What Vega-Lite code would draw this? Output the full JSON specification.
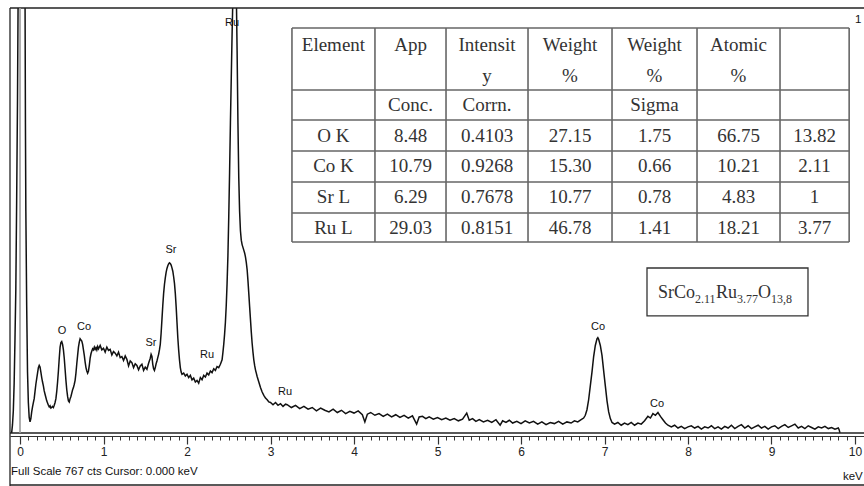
{
  "$schema": "https://vega.github.io/schema/vega-lite/v6.json",
  "autosize": {"type": "none"},
  "padding": {"left": 10, "top": 8, "right": 0, "bottom": 50},
  "width": 854,
  "height": 428,
  "background": "white",
  "config": {"view": {"stroke": null}},
  "resolve": {"axis": {"x": "independent"}},
  "datasets": {
    "spectrum": [
      {"e":-0.10,"c":0},{"e":-0.09,"c":15},{"e":-0.08,"c":40},{"e":-0.07,"c":90},{"e":-0.06,"c":170},{"e":-0.05,"c":260},{"e":-0.04,"c":420},{"e":-0.03,"c":600},{"e":-0.02,"c":850},{"e":-0.01,"c":1000},{"e":0.02,"c":1000},{"e":0.05,"c":950},{"e":0.06,"c":800},{"e":0.065,"c":560},{"e":0.07,"c":400},{"e":0.08,"c":230},{"e":0.09,"c":110},{"e":0.10,"c":55},{"e":0.11,"c":28},{"e":0.12,"c":20},{"e":0.13,"c":26},{"e":0.14,"c":38},{"e":0.15,"c":47},{"e":0.16,"c":55},{"e":0.17,"c":62},{"e":0.18,"c":75},{"e":0.19,"c":88},{"e":0.20,"c":98},{"e":0.21,"c":108},{"e":0.22,"c":118},{"e":0.23,"c":122},{"e":0.24,"c":119},{"e":0.25,"c":110},{"e":0.26,"c":100},{"e":0.27,"c":92},{"e":0.28,"c":85},{"e":0.29,"c":76},{"e":0.30,"c":70},{"e":0.31,"c":64},{"e":0.32,"c":58},{"e":0.33,"c":54},{"e":0.34,"c":50},{"e":0.35,"c":47},{"e":0.36,"c":49},{"e":0.37,"c":45},{"e":0.38,"c":46},{"e":0.39,"c":48},{"e":0.40,"c":46},{"e":0.41,"c":50},{"e":0.42,"c":55},{"e":0.43,"c":62},{"e":0.44,"c":75},{"e":0.45,"c":92},{"e":0.46,"c":112},{"e":0.47,"c":135},{"e":0.48,"c":155},{"e":0.49,"c":163},{"e":0.50,"c":165},{"e":0.51,"c":160},{"e":0.52,"c":150},{"e":0.53,"c":135},{"e":0.54,"c":115},{"e":0.55,"c":95},{"e":0.56,"c":78},{"e":0.57,"c":66},{"e":0.58,"c":58},{"e":0.59,"c":56},{"e":0.60,"c":62},{"e":0.61,"c":66},{"e":0.62,"c":72},{"e":0.63,"c":78},{"e":0.64,"c":82},{"e":0.65,"c":88},{"e":0.66,"c":95},{"e":0.67,"c":108},{"e":0.68,"c":125},{"e":0.69,"c":140},{"e":0.70,"c":155},{"e":0.71,"c":164},{"e":0.72,"c":170},{"e":0.73,"c":168},{"e":0.74,"c":166},{"e":0.75,"c":160},{"e":0.76,"c":150},{"e":0.77,"c":140},{"e":0.78,"c":128},{"e":0.79,"c":118},{"e":0.80,"c":112},{"e":0.81,"c":108},{"e":0.82,"c":112},{"e":0.83,"c":122},{"e":0.84,"c":135},{"e":0.85,"c":143},{"e":0.86,"c":148},{"e":0.87,"c":152},{"e":0.88,"c":150},{"e":0.89,"c":155},{"e":0.90,"c":151},{"e":0.91,"c":154},{"e":0.92,"c":150},{"e":0.93,"c":156},{"e":0.94,"c":152},{"e":0.96,"c":158},{"e":0.98,"c":150},{"e":1.00,"c":153},{"e":1.02,"c":146},{"e":1.04,"c":155},{"e":1.06,"c":149},{"e":1.08,"c":151},{"e":1.10,"c":141},{"e":1.12,"c":147},{"e":1.14,"c":144},{"e":1.16,"c":139},{"e":1.18,"c":146},{"e":1.20,"c":136},{"e":1.22,"c":138},{"e":1.24,"c":131},{"e":1.26,"c":139},{"e":1.28,"c":133},{"e":1.30,"c":121},{"e":1.32,"c":130},{"e":1.34,"c":127},{"e":1.36,"c":118},{"e":1.38,"c":125},{"e":1.40,"c":122},{"e":1.42,"c":114},{"e":1.44,"c":121},{"e":1.46,"c":124},{"e":1.48,"c":113},{"e":1.50,"c":119},{"e":1.52,"c":115},{"e":1.54,"c":126},{"e":1.56,"c":135},{"e":1.57,"c":142},{"e":1.58,"c":138},{"e":1.59,"c":124},{"e":1.60,"c":116},{"e":1.61,"c":113},{"e":1.62,"c":118},{"e":1.63,"c":125},{"e":1.64,"c":130},{"e":1.65,"c":136},{"e":1.66,"c":142},{"e":1.67,"c":150},{"e":1.68,"c":160},{"e":1.69,"c":180},{"e":1.70,"c":205},{"e":1.71,"c":230},{"e":1.72,"c":252},{"e":1.73,"c":268},{"e":1.74,"c":280},{"e":1.75,"c":290},{"e":1.76,"c":297},{"e":1.77,"c":302},{"e":1.78,"c":305},{"e":1.79,"c":307},{"e":1.80,"c":306},{"e":1.81,"c":303},{"e":1.82,"c":298},{"e":1.83,"c":292},{"e":1.84,"c":282},{"e":1.85,"c":270},{"e":1.86,"c":252},{"e":1.87,"c":228},{"e":1.88,"c":200},{"e":1.89,"c":172},{"e":1.90,"c":150},{"e":1.91,"c":132},{"e":1.92,"c":118},{"e":1.93,"c":110},{"e":1.94,"c":106},{"e":1.96,"c":108},{"e":1.98,"c":103},{"e":2.00,"c":106},{"e":2.02,"c":100},{"e":2.04,"c":104},{"e":2.06,"c":96},{"e":2.08,"c":99},{"e":2.10,"c":92},{"e":2.12,"c":95},{"e":2.14,"c":90},{"e":2.16,"c":100},{"e":2.18,"c":96},{"e":2.20,"c":104},{"e":2.22,"c":101},{"e":2.24,"c":108},{"e":2.26,"c":105},{"e":2.28,"c":112},{"e":2.30,"c":109},{"e":2.32,"c":116},{"e":2.34,"c":113},{"e":2.36,"c":120},{"e":2.38,"c":118},{"e":2.40,"c":124},{"e":2.42,"c":132},{"e":2.43,"c":145},{"e":2.44,"c":160},{"e":2.45,"c":178},{"e":2.46,"c":200},{"e":2.47,"c":230},{"e":2.48,"c":270},{"e":2.49,"c":320},{"e":2.50,"c":390},{"e":2.51,"c":470},{"e":2.52,"c":560},{"e":2.53,"c":640},{"e":2.54,"c":720},{"e":2.55,"c":790},{"e":2.56,"c":840},{"e":2.57,"c":870},{"e":2.58,"c":860},{"e":2.59,"c":800},{"e":2.60,"c":690},{"e":2.61,"c":560},{"e":2.62,"c":460},{"e":2.63,"c":400},{"e":2.64,"c":365},{"e":2.65,"c":348},{"e":2.66,"c":340},{"e":2.67,"c":335},{"e":2.68,"c":330},{"e":2.69,"c":325},{"e":2.70,"c":318},{"e":2.71,"c":308},{"e":2.72,"c":295},{"e":2.73,"c":275},{"e":2.74,"c":252},{"e":2.75,"c":228},{"e":2.76,"c":205},{"e":2.77,"c":182},{"e":2.78,"c":162},{"e":2.79,"c":146},{"e":2.80,"c":132},{"e":2.81,"c":122},{"e":2.82,"c":114},{"e":2.83,"c":108},{"e":2.84,"c":102},{"e":2.86,"c":92},{"e":2.88,"c":82},{"e":2.90,"c":74},{"e":2.92,"c":68},{"e":2.94,"c":63},{"e":2.96,"c":60},{"e":2.98,"c":56},{"e":3.00,"c":55},{"e":3.03,"c":51},{"e":3.06,"c":55},{"e":3.09,"c":50},{"e":3.12,"c":53},{"e":3.15,"c":48},{"e":3.18,"c":52},
      {"e":3.20,"c":51},{"e":3.25,"c":46},{"e":3.30,"c":50},{"e":3.35,"c":44},{"e":3.40,"c":48},{"e":3.45,"c":43},{"e":3.50,"c":46},{"e":3.55,"c":40},{"e":3.60,"c":45},{"e":3.65,"c":41},{"e":3.70,"c":38},{"e":3.75,"c":43},{"e":3.80,"c":37},{"e":3.85,"c":41},{"e":3.90,"c":35},{"e":3.95,"c":39},{"e":4.00,"c":36},{"e":4.05,"c":40},{"e":4.10,"c":33},{"e":4.13,"c":20},{"e":4.16,"c":34},{"e":4.20,"c":37},{"e":4.25,"c":32},{"e":4.30,"c":35},{"e":4.35,"c":30},{"e":4.40,"c":34},{"e":4.45,"c":29},{"e":4.50,"c":33},{"e":4.55,"c":28},{"e":4.60,"c":32},{"e":4.65,"c":27},{"e":4.70,"c":31},{"e":4.75,"c":16},{"e":4.78,"c":29},{"e":4.82,"c":30},{"e":4.86,"c":26},{"e":4.90,"c":29},{"e":4.95,"c":25},{"e":5.00,"c":28},{"e":5.05,"c":24},{"e":5.10,"c":27},{"e":5.15,"c":23},{"e":5.20,"c":26},{"e":5.25,"c":22},{"e":5.30,"c":25},{"e":5.35,"c":36},{"e":5.38,"c":23},{"e":5.42,"c":26},{"e":5.46,"c":21},{"e":5.50,"c":24},{"e":5.55,"c":20},{"e":5.60,"c":23},{"e":5.65,"c":19},{"e":5.70,"c":24},{"e":5.75,"c":14},{"e":5.78,"c":22},{"e":5.82,"c":19},{"e":5.86,"c":23},{"e":5.90,"c":18},{"e":5.95,"c":21},{"e":6.00,"c":17},{"e":6.05,"c":22},{"e":6.10,"c":18},{"e":6.15,"c":21},{"e":6.20,"c":16},{"e":6.25,"c":20},{"e":6.30,"c":15},{"e":6.35,"c":19},{"e":6.40,"c":17},{"e":6.45,"c":21},{"e":6.50,"c":16},{"e":6.55,"c":20},{"e":6.60,"c":18},{"e":6.64,"c":22},{"e":6.68,"c":20},{"e":6.72,"c":24},{"e":6.75,"c":27},{"e":6.77,"c":32},{"e":6.79,"c":42},{"e":6.81,"c":60},{"e":6.83,"c":85},{"e":6.85,"c":110},{"e":6.87,"c":138},{"e":6.89,"c":158},{"e":6.91,"c":170},{"e":6.92,"c":172},{"e":6.93,"c":169},{"e":6.95,"c":158},{"e":6.97,"c":140},{"e":6.99,"c":112},{"e":7.01,"c":85},{"e":7.03,"c":58},{"e":7.05,"c":38},{"e":7.07,"c":26},{"e":7.09,"c":19},{"e":7.12,"c":16},{"e":7.16,"c":19},{"e":7.20,"c":14},{"e":7.24,"c":18},{"e":7.28,"c":15},{"e":7.32,"c":19},{"e":7.36,"c":14},{"e":7.40,"c":18},{"e":7.44,"c":16},{"e":7.48,"c":22},{"e":7.52,"c":30},{"e":7.55,"c":27},{"e":7.58,"c":35},{"e":7.61,"c":32},{"e":7.64,"c":37},{"e":7.67,"c":30},{"e":7.70,"c":24},{"e":7.73,"c":18},{"e":7.76,"c":14},{"e":7.80,"c":11},{"e":7.84,"c":14},{"e":7.88,"c":9},{"e":7.92,"c":12},{"e":7.96,"c":8},{"e":8.00,"c":11},{"e":8.04,"c":13},{"e":8.08,"c":9},{"e":8.12,"c":12},{"e":8.16,"c":7},{"e":8.20,"c":11},{"e":8.24,"c":9},{"e":8.28,"c":13},{"e":8.32,"c":8},{"e":8.36,"c":11},{"e":8.40,"c":7},{"e":8.44,"c":12},{"e":8.48,"c":9},{"e":8.52,"c":14},{"e":8.56,"c":8},{"e":8.60,"c":12},{"e":8.64,"c":15},{"e":8.68,"c":9},{"e":8.72,"c":13},{"e":8.76,"c":8},{"e":8.80,"c":11},{"e":8.84,"c":14},{"e":8.88,"c":9},{"e":8.92,"c":12},{"e":8.96,"c":7},{"e":9.00,"c":11},{"e":9.04,"c":13},{"e":9.08,"c":8},{"e":9.12,"c":12},{"e":9.16,"c":15},{"e":9.20,"c":10},{"e":9.24,"c":13},{"e":9.28,"c":16},{"e":9.32,"c":9},{"e":9.36,"c":12},{"e":9.40,"c":8},{"e":9.44,"c":13},{"e":9.48,"c":10},{"e":9.52,"c":7},{"e":9.56,"c":11},{"e":9.60,"c":9},{"e":9.64,"c":12},{"e":9.68,"c":8},{"e":9.72,"c":10},{"e":9.76,"c":7},{"e":9.80,"c":9},{"e":9.81,"c":6},{"e":9.82,"c":0}
    ],
    "frame": [
      {"x1":-0.1198,"x2":10.1078,"y1":767,"y2":767},
      {"x1":-0.1198,"x2":-0.1198,"y1":767,"y2":-95.65},
      {"x1":-0.1198,"x2":10.1078,"y1":0,"y2":0},
      {"x1":-0.1198,"x2":10.1078,"y1":-93.84,"y2":-93.84}
    ],
    "cursor": [{"x1":0,"x2":0,"y1":0,"y2":767}],
    "grid": [
      {"x1":3.257,"x2":3.257,"y1":730.9,"y2":344.7},
      {"x1":4.251,"x2":4.251,"y1":730.9,"y2":344.7},
      {"x1":5.102,"x2":5.102,"y1":730.9,"y2":344.7},
      {"x1":6.084,"x2":6.084,"y1":730.9,"y2":344.7},
      {"x1":7.090,"x2":7.090,"y1":730.9,"y2":344.7},
      {"x1":8.108,"x2":8.108,"y1":730.9,"y2":344.7},
      {"x1":9.102,"x2":9.102,"y1":730.9,"y2":344.7},
      {"x1":9.93,"x2":9.93,"y1":730.9,"y2":344.7},
      {"x1":3.257,"x2":9.93,"y1":730.9,"y2":730.9},
      {"x1":3.257,"x2":9.93,"y1":619.0,"y2":619.0},
      {"x1":3.257,"x2":9.93,"y1":564.9,"y2":564.9},
      {"x1":3.257,"x2":9.93,"y1":508.9,"y2":508.9},
      {"x1":3.257,"x2":9.93,"y1":453.0,"y2":453.0},
      {"x1":3.257,"x2":9.93,"y1":397.0,"y2":397.0},
      {"x1":3.257,"x2":9.93,"y1":344.7,"y2":344.7}
    ],
    "cells": [
      {"x":3.754,"y":700.2,"t":"Element"},{"x":4.677,"y":700.2,"t":"App"},{"x":5.593,"y":700.2,"t":"Intensit"},{"x":6.587,"y":700.2,"t":"Weight"},{"x":7.599,"y":700.2,"t":"Weight"},{"x":8.605,"y":700.2,"t":"Atomic"},
      {"x":5.593,"y":644.3,"t":"y"},{"x":6.587,"y":644.3,"t":"%"},{"x":7.599,"y":644.3,"t":"%"},{"x":8.605,"y":644.3,"t":"%"},
      {"x":4.677,"y":592.0,"t":"Conc."},{"x":5.593,"y":592.0,"t":"Corrn."},{"x":7.599,"y":592.0,"t":"Sigma"},
      {"x":3.754,"y":536.0,"t":"O K"},{"x":4.677,"y":536.0,"t":"8.48"},{"x":5.593,"y":536.0,"t":"0.4103"},{"x":6.587,"y":536.0,"t":"27.15"},{"x":7.599,"y":536.0,"t":"1.75"},{"x":8.605,"y":536.0,"t":"66.75"},{"x":9.515,"y":536.0,"t":"13.82"},
      {"x":3.754,"y":481.9,"t":"Co K"},{"x":4.677,"y":481.9,"t":"10.79"},{"x":5.593,"y":481.9,"t":"0.9268"},{"x":6.587,"y":481.9,"t":"15.30"},{"x":7.599,"y":481.9,"t":"0.66"},{"x":8.605,"y":481.9,"t":"10.21"},{"x":9.515,"y":481.9,"t":"2.11"},
      {"x":3.754,"y":425.9,"t":"Sr L"},{"x":4.677,"y":425.9,"t":"6.29"},{"x":5.593,"y":425.9,"t":"0.7678"},{"x":6.587,"y":425.9,"t":"10.77"},{"x":7.599,"y":425.9,"t":"0.78"},{"x":8.605,"y":425.9,"t":"4.83"},{"x":9.515,"y":425.9,"t":"1"},
      {"x":3.754,"y":370.0,"t":"Ru L"},{"x":4.677,"y":370.0,"t":"29.03"},{"x":5.593,"y":370.0,"t":"0.8151"},{"x":6.587,"y":370.0,"t":"46.78"},{"x":7.599,"y":370.0,"t":"1.41"},{"x":8.605,"y":370.0,"t":"18.21"},{"x":9.515,"y":370.0,"t":"3.77"}
    ],
    "box": [{"x1":7.509,"x2":9.437,"y1":297.8,"y2":211.2}],
    "formulaMain": [
      {"x":7.641,"y":243.6,"t":"Sr"},{"x":7.832,"y":243.6,"t":"Co"},{"x":8.335,"y":243.6,"t":"Ru"},{"x":8.838,"y":243.6,"t":"O"}
    ],
    "formulaSub": [
      {"x":8.084,"y":234.6,"t":"2.11"},{"x":8.587,"y":234.6,"t":"3.77"},{"x":8.994,"y":234.6,"t":"13,8"}
    ],
    "peaks": [
      {"x":2.539,"y":739.9,"t":"Ru"},{"x":1.808,"y":330.3,"t":"Sr"},{"x":0.503,"y":184.1,"t":"O"},{"x":0.766,"y":191.3,"t":"Co"},{"x":1.569,"y":162.4,"t":"Sr"},{"x":2.240,"y":140.8,"t":"Ru"},{"x":3.174,"y":74.0,"t":"Ru"},{"x":6.922,"y":191.3,"t":"Co"},{"x":7.629,"y":52.3,"t":"Co"}
    ],
    "notes": [
      {"x":-0.108,"y":-70.4,"t":"Full Scale 767 cts  Cursor: 0.000 keV"},
      {"x":9.856,"y":-79.4,"t":"keV"},
      {"x":10.0,"y":745.3,"t":"1"}
    ]
  },
  "layer": [
    {
      "data": {"name": "spectrum"},
      "mark": {"type": "line", "color": "#111", "strokeWidth": 1.5, "clip": true},
      "encoding": {
        "x": {
          "field": "e", "type": "quantitative",
          "scale": {"domain": [-0.1198, 10.1078], "nice": false, "zero": false},
          "axis": {
            "orient": "bottom", "title": null, "grid": false,
            "values": [0,1,2,3,4,5,6,7,8,9,10],
            "format": "d",
            "tickSize": 8, "tickColor": "#333", "tickWidth": 1.2,
            "domainColor": "#333", "domainWidth": 1.2,
            "labelFont": "Liberation Sans", "labelFontSize": 12, "labelColor": "#222",
            "labelFlush": false, "labelOverlap": false, "labelBound": false, "labelPadding": 2
          }
        },
        "y": {"field": "c", "type": "quantitative", "scale": {"domain": [-5.414, 767], "nice": false, "zero": false}, "axis": null}
      }
    },
    {
      "data": {"name": "frame"},
      "mark": {"type": "rule", "color": "#222", "strokeWidth": 1.3},
      "encoding": {
        "x": {"field": "x1", "type": "quantitative", "axis": null},
        "x2": {"field": "x2"},
        "y": {"field": "y1", "type": "quantitative", "axis": null},
        "y2": {"field": "y2"}
      }
    },
    {
      "data": {"name": "cursor"},
      "mark": {"type": "rule", "color": "#9a9a9a", "strokeWidth": 1.6},
      "encoding": {
        "x": {
          "field": "x1", "type": "quantitative",
          "axis": {
            "orient": "bottom", "title": null, "grid": false, "labels": false, "domain": false,
            "values": [0,0.1,0.2,0.3,0.4,0.5,0.6,0.7,0.8,0.9,1,1.1,1.2,1.3,1.4,1.5,1.6,1.7,1.8,1.9,2,2.1,2.2,2.3,2.4,2.5,2.6,2.7,2.8,2.9,3,3.1,3.2,3.3,3.4,3.5,3.6,3.7,3.8,3.9,4,4.1,4.2,4.3,4.4,4.5,4.6,4.7,4.8,4.9,5,5.1,5.2,5.3,5.4,5.5,5.6,5.7,5.8,5.9,6,6.1,6.2,6.3,6.4,6.5,6.6,6.7,6.8,6.9,7,7.1,7.2,7.3,7.4,7.5,7.6,7.7,7.8,7.9,8,8.1,8.2,8.3,8.4,8.5,8.6,8.7,8.8,8.9,9,9.1,9.2,9.3,9.4,9.5,9.6,9.7,9.8,9.9,10],
            "tickSize": 4, "tickColor": "#333", "tickWidth": 1
          }
        },
        "x2": {"field": "x2"},
        "y": {"field": "y1", "type": "quantitative", "axis": null},
        "y2": {"field": "y2"}
      }
    },
    {
      "data": {"name": "grid"},
      "mark": {"type": "rule", "color": "#666", "strokeWidth": 1.6},
      "encoding": {
        "x": {"field": "x1", "type": "quantitative", "axis": null},
        "x2": {"field": "x2"},
        "y": {"field": "y1", "type": "quantitative", "axis": null},
        "y2": {"field": "y2"}
      }
    },
    {
      "data": {"name": "cells"},
      "mark": {"type": "text", "font": "Liberation Serif", "fontSize": 19, "color": "#333", "align": "center", "baseline": "middle"},
      "encoding": {
        "x": {"field": "x", "type": "quantitative", "axis": null},
        "y": {"field": "y", "type": "quantitative", "axis": null},
        "text": {"field": "t"}
      }
    },
    {
      "data": {"name": "box"},
      "mark": {"type": "rect", "fill": "white", "stroke": "#333", "strokeWidth": 1.3},
      "encoding": {
        "x": {"field": "x1", "type": "quantitative", "axis": null},
        "x2": {"field": "x2"},
        "y": {"field": "y1", "type": "quantitative", "axis": null},
        "y2": {"field": "y2"}
      }
    },
    {
      "data": {"name": "formulaMain"},
      "mark": {"type": "text", "font": "Liberation Serif", "fontSize": 18, "color": "#333", "align": "left", "baseline": "alphabetic"},
      "encoding": {
        "x": {"field": "x", "type": "quantitative", "axis": null},
        "y": {"field": "y", "type": "quantitative", "axis": null},
        "text": {"field": "t"}
      }
    },
    {
      "data": {"name": "formulaSub"},
      "mark": {"type": "text", "font": "Liberation Serif", "fontSize": 12, "color": "#333", "align": "left", "baseline": "alphabetic"},
      "encoding": {
        "x": {"field": "x", "type": "quantitative", "axis": null},
        "y": {"field": "y", "type": "quantitative", "axis": null},
        "text": {"field": "t"}
      }
    },
    {
      "data": {"name": "peaks"},
      "mark": {"type": "text", "font": "Liberation Sans", "fontSize": 11, "color": "#111", "align": "center", "baseline": "middle"},
      "encoding": {
        "x": {"field": "x", "type": "quantitative", "axis": null},
        "y": {"field": "y", "type": "quantitative", "axis": null},
        "text": {"field": "t"}
      }
    },
    {
      "data": {"name": "notes"},
      "mark": {"type": "text", "font": "Liberation Sans", "fontSize": 11.5, "color": "#111", "align": "left", "baseline": "middle"},
      "encoding": {
        "x": {"field": "x", "type": "quantitative", "axis": null},
        "y": {"field": "y", "type": "quantitative", "axis": null},
        "text": {"field": "t"}
      }
    }
  ]
}
